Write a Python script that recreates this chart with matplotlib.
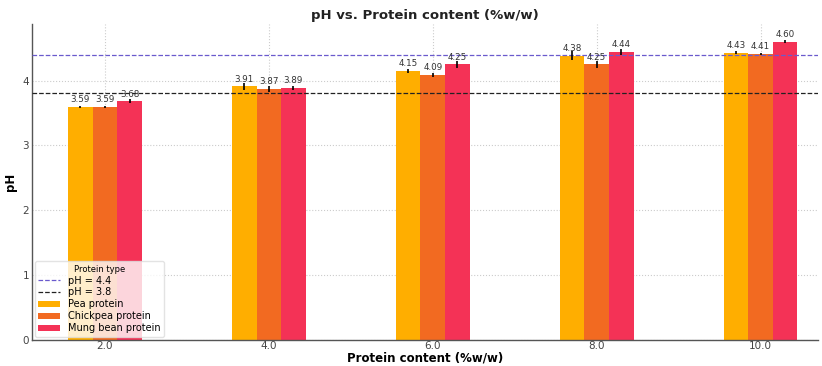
import numpy as np
import matplotlib.pyplot as plt

content = ["2.0", "4.0", "6.0", "8.0", "10.0"]
series = ["Pea protein", "Chickpea protein", "Mung bean protein"]
pea = [3.59, 3.91, 4.15, 4.38, 4.43]
chickpea = [3.59, 3.87, 4.09, 4.25, 4.41]
mung = [3.68, 3.89, 4.25, 4.44, 4.60]
pea_err = [0.02, 0.05, 0.03, 0.07, 0.02]
chickpea_err = [0.02, 0.05, 0.03, 0.05, 0.01]
mung_err = [0.03, 0.03, 0.05, 0.04, 0.02]
colors = ["#FFAE00", "#F26A21", "#F43256"]

fig = plt.figure(figsize=(8.22, 3.66), dpi=100)
ax = fig.add_axes([0.039, 0.072, 0.956, 0.862])

x = np.arange(len(content))
w = 0.15
vals = [pea, chickpea, mung]
errs = [pea_err, chickpea_err, mung_err]

ax.axhline(4.4, color="#6A5ACD", ls="--", lw=0.9, label="pH = 4.4", zorder=3)
ax.axhline(3.8, color="#222222", ls="--", lw=0.9, label="pH = 3.8", zorder=3)

for j, (name, v, e) in enumerate(zip(series, vals, errs)):
    pos = x + (j - 1) * w
    ax.bar(pos, v, width=w, color=colors[j], label=name, zorder=2)
    ax.errorbar(pos, v, yerr=e, fmt="none", ecolor="black", elinewidth=1.2, zorder=4)
    for px, py in zip(pos, v):
        ax.text(px, py + 0.04, f"{py:.2f}", ha="center", va="bottom",
                fontsize=6.3, color="#333333", zorder=5)

ax.set_xticks(x)
ax.set_xticklabels(content)
ax.set_xlim(-0.445, 4.35)
ax.set_ylim(0, 4.87)
ax.set_yticks([0, 1, 2, 3, 4])
ax.tick_params(length=0, labelsize=7.5, colors="#444444", pad=2)
ax.tick_params(axis="x", pad=1)
ax.grid(True, ls=":", color="#cccccc", lw=0.8, zorder=0)
ax.set_axisbelow(True)
for s in ["top", "right"]:
    ax.spines[s].set_visible(False)
for s in ["left", "bottom"]:
    ax.spines[s].set_color("#555555")
    ax.spines[s].set_linewidth(1.0)

ax.set_title("pH vs. Protein content (%w/w)", fontsize=9.5, fontweight="bold",
             color="#222222", pad=4)
ax.set_xlabel("Protein content (%w/w)", fontsize=8.5, fontweight="bold", labelpad=0)
ax.set_ylabel("pH", fontsize=8.5, fontweight="bold")

leg = ax.legend(title="Protein type", loc="lower left", fontsize=7, title_fontsize=6,
                framealpha=0.8, borderpad=0.35, labelspacing=0.2, handlelength=2.2,
                borderaxespad=0.3)
leg.get_frame().set_edgecolor("#dddddd")

fig.savefig("out.png", dpi=100)
